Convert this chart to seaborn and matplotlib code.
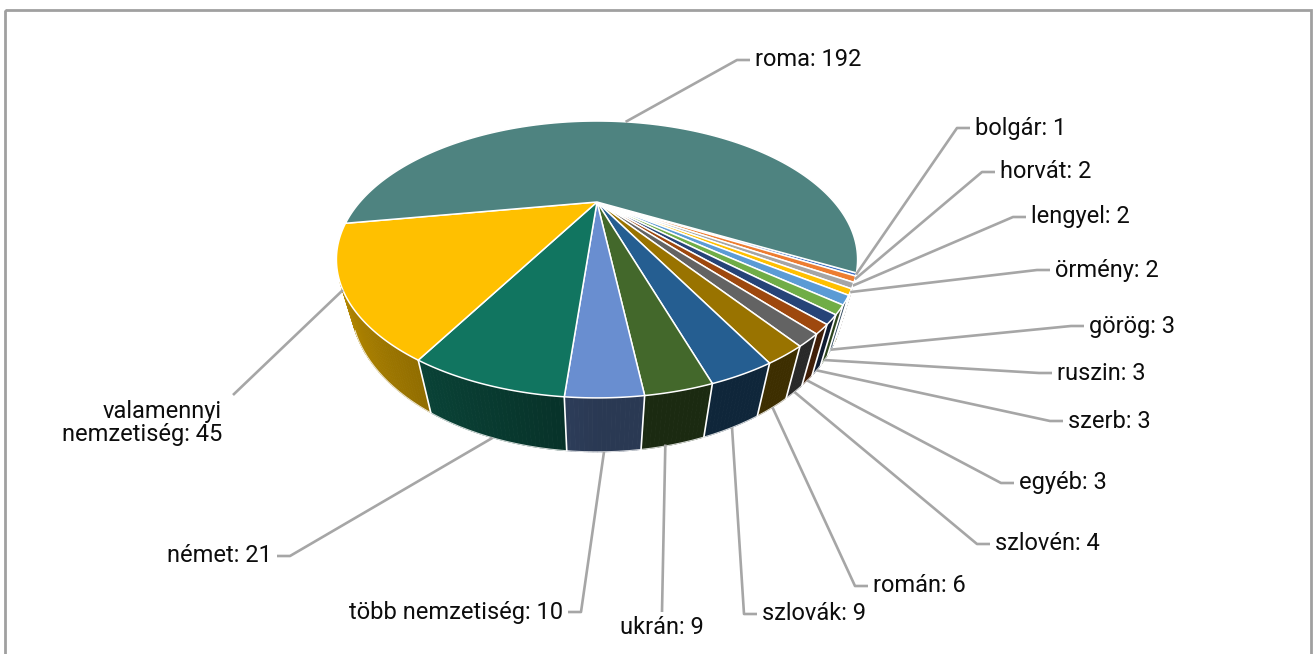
import numpy as np
import seaborn as sns
import matplotlib
matplotlib.use("Agg")
import matplotlib.pyplot as plt
import matplotlib.colors as mcolors
from matplotlib.patches import Polygon, Rectangle

# --- adatok (növekvő sorrendben, ahogy az Excel diagramban) ---
groups = ['bolgár', 'horvát', 'lengyel', 'örmény', 'görög', 'ruszin', 'szerb',
          'egyéb', 'szlovén', 'román', 'szlovák', 'ukrán', 'több nemzetiség',
          'német', 'valamennyi nemzetiség', 'roma']
counts = [1, 2, 2, 2, 3, 3, 3, 3, 4, 6, 9, 9, 10, 21, 45, 192]
slice_colors = ['#4472C4', '#ED7D31', '#A5A5A5', '#FFC000', '#5B9BD5', '#70AD47',
                '#264478', '#9E480E', '#636363', '#997300', '#255E91', '#43682B',
                '#698ED0', '#117560', '#FFC000', '#4E8380']

# --- címkék elhelyezése (pixel), oldal: r = címke a vonaltól jobbra, l = balra ---
label_layout = [
    (975, 128, 'r'), (1000, 172, 'r'), (1031, 217, 'r'), (1055, 270, 'r'),
    (1089, 326, 'r'), (1057, 373, 'r'), (1068, 421, 'r'), (1019, 483, 'r'),
    (995, 544, 'r'), (873, 586, 'r'), (762, 614, 'r'), (662, 628, 'b'),
    (563, 612, 'l'), (272, 556, 'l'), (222, 423, 'l2'), (755, 60, 'r'),
]

# --- 3D nézet paraméterei ---
W, H = 1314, 654
CX, CY = 597, 202
FOCAL = 500
TILT = np.radians(28.9)
DIST = 2.109
THICK = 0.21
START = -29.5
LINE_COLOR = '#A6A6A6'


def project(theta, r=1.0, z=0.0):
    t = np.radians(theta)
    x = r * np.cos(t)
    y = r * np.sin(t)
    depth = DIST + y * np.cos(TILT) - z * np.sin(TILT)
    px = CX + FOCAL * x / depth
    py = CY - FOCAL * (y * np.sin(TILT) + z * np.cos(TILT)) / depth
    return px, py


def shade(color, theta):
    c = -np.cos(np.radians(theta))
    f = 0.40 + 0.35 * max(c, 0.0)
    rgb = np.array(mcolors.to_rgb(color)) * f
    return tuple(np.clip(rgb, 0, 1))


sns.set_theme(style='white')
plt.rcParams['font.family'] = ['Roboto', 'DejaVu Sans']

fig = plt.figure(figsize=(W / 100, H / 100), dpi=100)
ax = fig.add_axes([0, 0, 1, 1])
ax.set_xlim(0, W)
ax.set_ylim(H, 0)
ax.axis('off')

total = sum(counts)
edges = START - np.concatenate([[0], np.cumsum(counts)]) * 360.0 / total

# látható oldalfal tartománya
lim = np.degrees(np.arcsin(1.0 / (DIST * np.cos(TILT))))
vis_lo, vis_hi = -180 + lim, -lim

# 1. oldalfalak
for i, col in enumerate(slice_colors):
    hi, lo = edges[i], edges[i + 1]
    a, b = max(lo, vis_lo), min(hi, vis_hi)
    if a >= b:
        continue
    steps = np.linspace(b, a, max(2, int((b - a) / 0.7) + 2))
    for t1, t2 in zip(steps[:-1], steps[1:]):
        pts = [project(t1), project(t2), project(t2, z=-THICK), project(t1, z=-THICK)]
        fc = shade(col, (t1 + t2) / 2)
        ax.add_patch(Polygon(pts, closed=True, facecolor=fc, edgecolor=fc, lw=0.6))

# oldalfal határvonalai
for t in edges:
    if vis_lo < t < vis_hi:
        p0, p1 = project(t), project(t, z=-THICK)
        ax.plot([p0[0], p1[0]], [p0[1], p1[1]], color='white', lw=1.2)
bt = np.linspace(vis_lo, vis_hi, 200)
bx, by = project(bt, z=-THICK)
ax.plot(bx, by, color='white', lw=0.8, alpha=0.8)

# 2. felső lap
for i, col in enumerate(slice_colors):
    hi, lo = edges[i], edges[i + 1]
    arc = np.linspace(hi, lo, max(3, int((hi - lo) / 0.5) + 2))
    ax_, ay_ = project(arc)
    pts = [(CX, CY)] + list(zip(ax_, ay_))
    ax.add_patch(Polygon(pts, closed=True, facecolor=col, edgecolor='white',
                         lw=1.1, joinstyle='round'))

# 3. címkék és vezető vonalak
for i, (name, val) in enumerate(zip(groups, counts)):
    tx, ty, side = label_layout[i]
    mid = (edges[i] + edges[i + 1]) / 2
    z = -THICK if np.sin(np.radians(mid)) < -0.62 else 0.0
    sx, sy = project(mid, z=z)
    text = f'{name}: {val}'
    if name == 'valamennyi nemzetiség':
        text = f'valamennyi\nnemzetiség: {val}'
    if side == 'r':
        xs, ys = [sx, tx - 18, tx - 5], [sy, ty, ty]
        ha = 'left'
    elif side == 'l':
        xs, ys = [sx, tx + 18, tx + 5], [sy, ty, ty]
        ha = 'right'
    elif side == 'l2':
        xs, ys = [sx, tx + 11], [sy, ty - 28]
        ha = 'right'
    else:
        xs, ys = [sx - 8, tx], [sy, ty - 16]
        ha = 'center'
    ax.plot(xs, ys, color=LINE_COLOR, lw=1.9, solid_capstyle='butt')
    ax.text(tx, ty, text, ha=ha, va='center', fontsize=17, color='#0d0d0d',
            multialignment='right', linespacing=1.0)

# keret
ax.add_patch(Rectangle((5, 10), W - 8, H + 10, fill=False, edgecolor='#A0A0A0', lw=2))

plt.savefig('out.png', dpi=100)
